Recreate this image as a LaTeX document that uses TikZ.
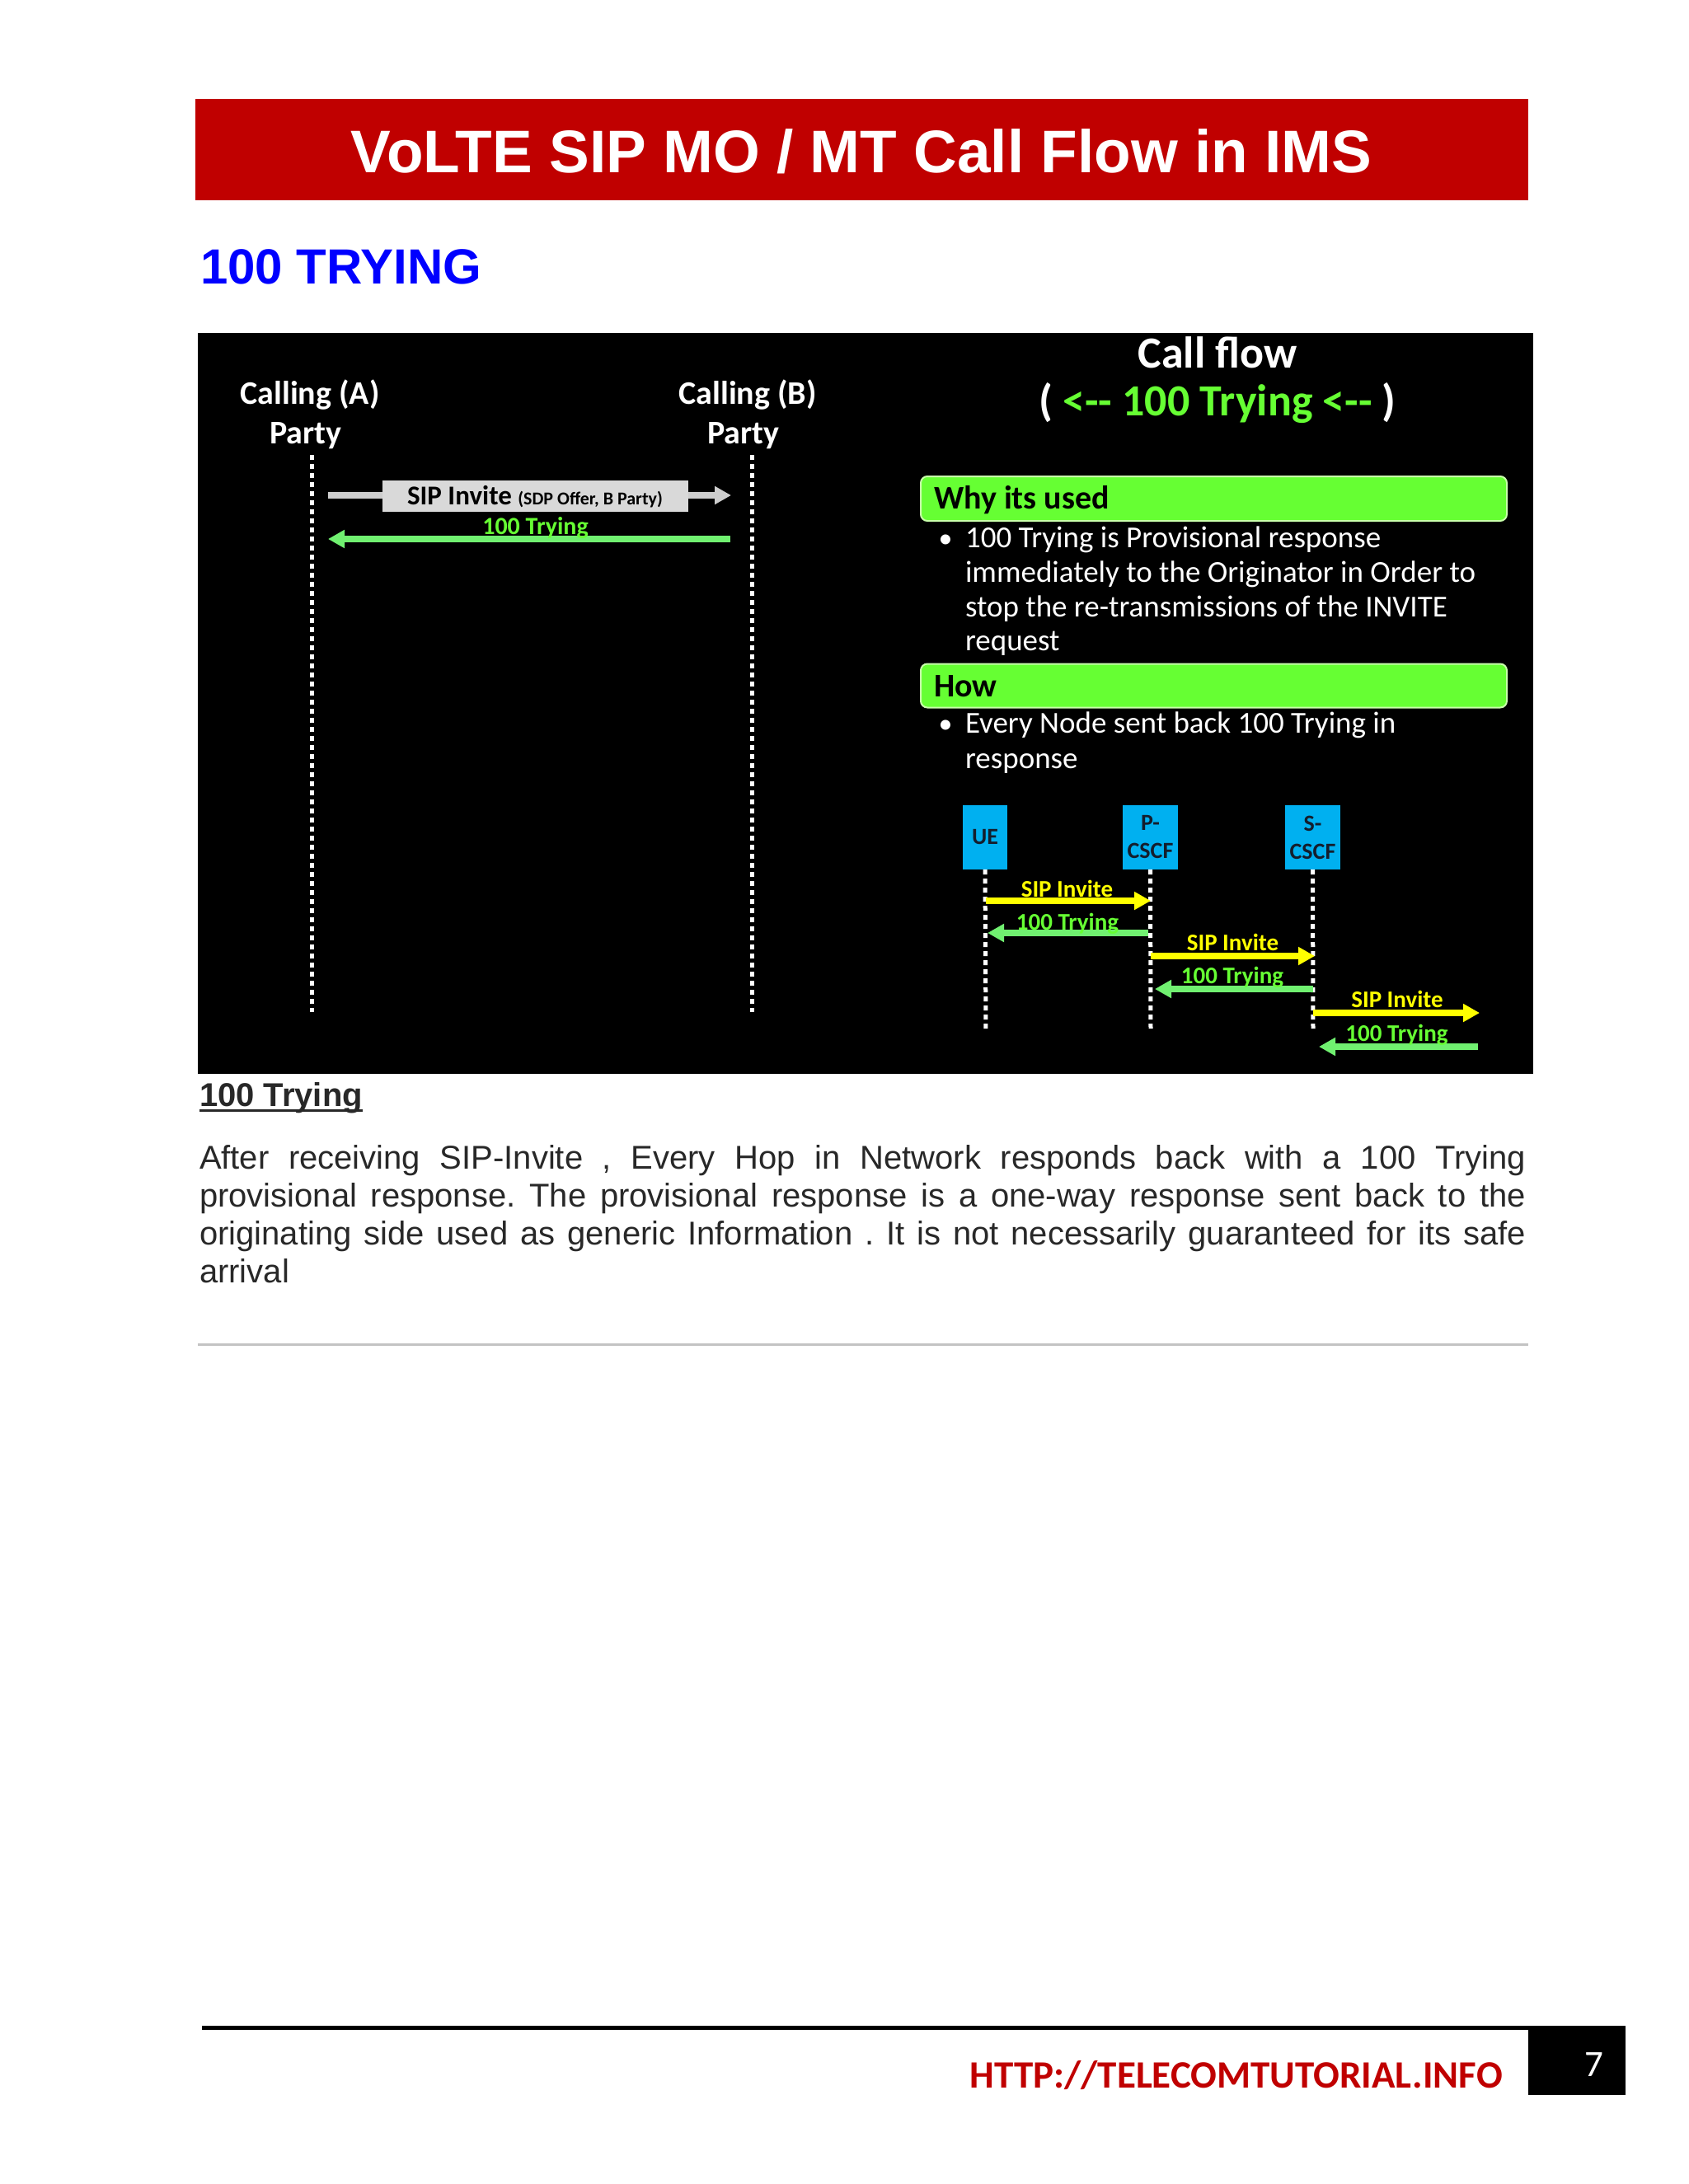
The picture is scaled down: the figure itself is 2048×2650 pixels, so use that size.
\documentclass[tikz,border=0pt]{standalone}
\usepackage{fontspec}
\setmainfont{Liberation Sans}
\newfontfamily\calfont{Carlito}
\usetikzlibrary{arrows.meta}
\definecolor{bannerred}{RGB}{192,0,0}
\definecolor{headblue}{RGB}{0,0,255}
\definecolor{txtgray}{RGB}{40,40,40}
\definecolor{lime}{RGB}{102,255,51}
\definecolor{arrgreen}{RGB}{112,240,112}
\definecolor{sipyellow}{RGB}{255,255,0}
\definecolor{nodeblue}{RGB}{0,176,240}
\definecolor{boxgray}{RGB}{217,217,217}
\definecolor{arrgray}{RGB}{205,205,205}
\definecolor{rulegray}{RGB}{195,195,195}
\newcommand\fsz[2]{\fontsize{#1}{#2}\selectfont}
\frenchspacing
\begin{document}
\begin{tikzpicture}[x=1pt,y=-1pt,
  txt/.style={inner sep=0pt, outer sep=0pt, anchor=base west},
  ctxt/.style={inner sep=0pt, outer sep=0pt, anchor=base},
  slidebold/.style={ctxt, white, font=\calfont\bfseries\fsz{40}{44}},
  bullettxt/.style={txt, white, font=\calfont\fsz{37}{42}},
  paratxt/.style={txt, txtgray, font=\fsz{40}{46}},
  lifeline/.style={white, line width=5pt, dash pattern=on 6pt off 5pt},
  msg/.style={line width=8pt, -{Triangle[length=20pt,width=21pt]}},
  lbl/.style={ctxt, font=\calfont\bfseries\fsz{29}{30}},
  greenhead/.style={rounded corners=8pt, fill=lime, draw={rgb,255:red,200;green,255;blue,170}, line width=2pt},
  netnode/.style={fill=nodeblue, inner sep=0pt, minimum height=78pt, align=center, font=\calfont\bfseries\fsz{28}{34}, text={rgb,255:red,20;green,30;blue,45}}
]
\useasboundingbox (0,0) rectangle (2048,2650);
\fill[white] (0,0) rectangle (2048,2650);

% banner
\fill[bannerred] (237,120) rectangle (1854,243);
\node[ctxt, white, font=\bfseries\fsz{73}{80}] (title) at (1045,209) {VoLTE SIP MO / MT Call Flow in IMS};

% heading
\node[txt, headblue, font=\bfseries\fsz{60}{66}] (head) at (243,344) {100 TRYING};

% slide background
\fill[black] (240,404) rectangle (1860,1303);

% left parties
\node[slidebold] (ca) at (376,490) {Calling (A)};
\node[slidebold] (pa) at (371,538) {Party};
\node[slidebold] (cb) at (907,490) {Calling (B)};
\node[slidebold] (pb) at (902,538) {Party};
\coordinate (Atop) at (378,552);
\coordinate (Abot) at (378,1228);
\coordinate (Btop) at (912,552);
\coordinate (Bbot) at (912,1228);
\draw[lifeline] (Atop) -- (Abot);
\draw[lifeline] (Btop) -- (Bbot);

\coordinate (sa) at (398,601);
\coordinate (sb) at (887,601);
\draw[msg, arrgray] (sa) -- (sb);
\node[fill=boxgray, inner sep=0pt, minimum width=371pt, minimum height=38pt] (sipbox) at (649.5,602) {};
\node[ctxt, black] (siptxt) at (649,612) {\calfont\bfseries\fsz{33}{33}SIP Invite \fsz{22}{22}(SDP Offer, B Party)};
\coordinate (ta) at (886,654);
\coordinate (tb) at (398,654);
\draw[msg, arrgreen] (ta) -- (tb);
\node[ctxt, lime, font=\calfont\bfseries\fsz{30}{30}] (tlbl) at (649.5,648) {100 Trying};

% right: call flow title
\node[ctxt, white, font=\calfont\bfseries\fsz{54}{60}] (cf) at (1477,446) {Call flow};
\node[ctxt, white, font=\calfont\bfseries\fsz{54}{60}] (cf2) at (1477,504) {( \textcolor{lime}{<-- 100 Trying <--} )};

% why box
\node[greenhead, minimum width=711pt, minimum height=54pt, inner sep=0pt] (why) at (1472.5,605) {};
\node[txt, black, font=\calfont\bfseries\fsz{40}{44}] (whyt) at (1133,617) {Why its used};
\node[ctxt, white, font=\calfont\fsz{34}{42}] (b1) at (1147,664) {\textbullet};
\node[bullettxt] (w1) at (1171,664) {100 Trying is Provisional response};
\node[bullettxt] (w2) at (1171,706) {immediately to the Originator in Order to};
\node[bullettxt] (w3) at (1171,748) {stop the re-transmissions of the INVITE};
\node[bullettxt] (w4) at (1171,789) {request};

% how box
\node[greenhead, minimum width=711pt, minimum height=53pt, inner sep=0pt] (how) at (1472.5,832) {};
\node[txt, black, font=\calfont\bfseries\fsz{40}{44}] (howt) at (1133,845) {How};
\node[ctxt, white, font=\calfont\fsz{34}{42}] (b2) at (1147,889) {\textbullet};
\node[bullettxt] (h1) at (1171,889) {Every Node sent back 100 Trying in};
\node[bullettxt] (h2) at (1171,932) {response};

% network nodes
\node[netnode, minimum width=54pt] (ue) at (1195,1016) {UE};
\node[netnode, minimum width=67pt] (pc) at (1395.5,1016) {P-\\CSCF};
\node[netnode, minimum width=67pt] (sc) at (1592.5,1016) {S-\\CSCF};
\coordinate (ueb) at (1196,1253);
\coordinate (pcb) at (1396,1253);
\coordinate (scb) at (1593,1253);
\draw[lifeline] (ue.south) -- (ueb);
\draw[lifeline] (pc.south) -- (pcb);
\draw[lifeline] (sc.south) -- (scb);

\coordinate (u1) at (1196,1093); \coordinate (p1) at (1396,1093);
\coordinate (p2) at (1393,1132); \coordinate (u2) at (1198,1132);
\coordinate (p3) at (1396,1160); \coordinate (s3) at (1595,1160);
\coordinate (s4) at (1593,1200); \coordinate (p4) at (1401,1200);
\coordinate (s5) at (1593,1229); \coordinate (x5) at (1795,1229);
\coordinate (x6) at (1793,1270); \coordinate (s6) at (1600,1270);
\draw[msg, sipyellow] (u1) -- (p1);
\draw[msg, arrgreen] (p2) -- (u2);
\draw[msg, sipyellow] (p3) -- (s3);
\draw[msg, arrgreen] (s4) -- (p4);
\draw[msg, sipyellow] (s5) -- (x5);
\draw[msg, arrgreen] (x6) -- (s6);
\node[lbl, sipyellow] (l1) at (1294.5,1088) {SIP Invite};
\node[lbl, lime] (l2) at (1295,1128) {100 Trying};
\node[lbl, sipyellow] (l3) at (1495.5,1153) {SIP Invite};
\node[lbl, lime] (l4) at (1495,1193) {100 Trying};
\node[lbl, sipyellow] (l5) at (1695,1222) {SIP Invite};
\node[lbl, lime] (l6) at (1694.5,1263) {100 Trying};

% text below slide
\node[txt, txtgray, font=\bfseries\fsz{40}{46}] (sub) at (242,1342) {100 Trying};
\draw[txtgray, line width=3pt] ([yshift=-5pt]sub.base west) -- ([yshift=-5pt]sub.base east);
\node[paratxt] (p1t) at (242,1418) {\makebox[1609pt][s]{After receiving SIP-Invite , Every Hop in Network responds back with a 100 Trying}};
\node[paratxt] (p2t) at (242,1464) {\makebox[1609pt][s]{provisional response. The provisional response is a one-way response sent back to the}};
\node[paratxt] (p3t) at (242,1510) {\makebox[1609pt][s]{originating side used as generic Information . It is not necessarily guaranteed for its safe}};
\node[paratxt] (p4t) at (242,1556) {arrival};

\coordinate (rl) at (240,1631);
\coordinate (rr) at (1854,1631);
\draw[rulegray, line width=3pt] (rl) -- (rr);

% footer
\coordinate (fl) at (245,2460);
\coordinate (fr) at (1972,2460);
\draw[black, line width=5pt] (fl) -- (fr);
\fill[black] (1854,2460) rectangle (1972,2542);
\node[ctxt, white, font=\calfont\fsz{45}{50}] (pg) at (1934,2519) {7};
\node[inner sep=0pt, anchor=base east, bannerred, font=\calfont\bfseries\fsz{47}{50}] (url) at (1823,2533) {HTTP://TELECOMTUTORIAL.INFO};
\end{tikzpicture}
\end{document}
